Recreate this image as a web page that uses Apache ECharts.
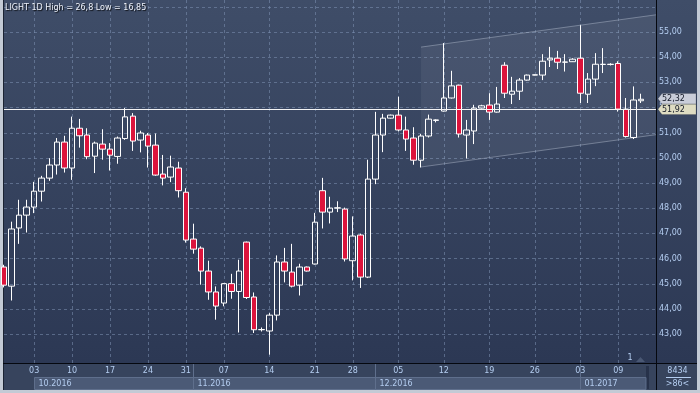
<!DOCTYPE html>
<html>
<head>
<meta charset="utf-8">
<title>LIGHT 1D</title>
<script src="https://cdn.jsdelivr.net/npm/echarts@6/dist/echarts.min.js"></script>
<style>
html,body{margin:0;padding:0;background:#c3cad5;}
#wrap{position:relative;width:700px;height:393px;background:#c3cad5;overflow:hidden;}
.l{position:absolute;}
#chart{position:absolute;left:0;top:0;width:700px;height:393px;}
</style>
</head>
<body>
<div id="wrap">
  <div class="l" style="left:3px;top:0;width:694px;height:363px;background:linear-gradient(#3f4d68,#2c3854);"></div>
  <div class="l" style="left:3px;top:363px;width:694px;height:27px;background:#37445d;"></div>
  <div class="l" style="left:3px;top:0;width:1px;height:390px;background:#1b2333;"></div>
  <div class="l" style="left:3px;top:363px;width:694px;height:1px;background:#05080f;"></div>
  <div class="l" style="left:656px;top:0;width:1px;height:390px;background:#05080f;"></div>
  <div class="l" style="left:646px;top:366px;width:3px;height:23px;background:#27324a;"></div>
  <div id="chart"></div>
</div>
<script>
// ---- data ----
const open  = [45.66,44.90,47.21,47.72,48.04,48.67,49.19,49.71,50.62,49.59,
               51.17,50.90,50.06,50.54,50.34,50.05,50.76,51.65,50.70,50.90,
               50.50,49.35,49.23,49.59,48.63,46.77,46.41,45.50,44.67,44.23,
               45.00,44.69,46.65,44.47,43.17,43.12,43.75,45.86,45.46,44.94,
               45.66,45.78,48.69,47.84,48.00,47.96,45.91,46.93,45.26,49.15,
               50.90,51.57,51.69,51.10,50.78,49.90,50.86,51.48,51.85,52.37,
               52.88,50.90,51.06,51.97,52.09,51.81,53.67,52.52,52.64,53.08,
               53.28,53.28,53.88,53.95,53.79,53.81,53.95,52.52,53.12,53.70,
               53.71,53.74,51.93,50.80,52.26];
const close = [44.94,47.17,47.72,48.04,48.67,49.19,49.71,50.62,49.59,51.17,
               50.87,50.04,50.58,50.34,50.10,50.78,51.62,50.66,50.98,50.46,
               49.31,49.19,49.63,48.69,46.73,46.37,45.50,44.67,44.11,45.00,
               44.69,45.50,44.45,43.17,43.18,43.75,45.86,45.50,44.90,45.66,
               45.50,47.44,47.84,48.00,48.01,45.98,46.89,45.26,49.15,50.90,
               51.57,51.69,51.10,50.74,49.90,50.86,51.53,51.50,52.37,52.85,
               50.94,51.10,51.97,52.06,51.81,52.13,52.56,52.64,53.08,53.28,
               53.29,53.83,53.95,53.79,53.80,53.91,52.56,53.12,53.71,53.71,
               53.70,51.93,50.84,52.29,52.32];
const low   = [44.85,44.33,46.58,47.03,47.80,48.26,49.08,49.33,49.41,49.12,
               50.40,49.94,49.39,49.92,49.49,49.76,50.71,50.27,50.21,49.61,
               49.28,48.90,49.03,48.42,46.63,46.19,44.96,44.36,43.57,44.10,
               44.40,43.06,44.39,43.04,43.10,42.18,43.54,45.05,44.85,44.53,
               45.48,45.76,47.19,47.39,47.84,45.88,45.13,44.83,45.22,48.95,
               50.22,51.55,51.04,50.27,49.72,49.61,50.80,51.40,51.83,52.35,
               50.80,49.97,50.54,51.95,51.50,51.79,52.37,52.13,52.29,53.06,
               53.27,53.08,53.60,53.52,53.42,53.80,52.17,52.17,52.84,53.36,
               53.66,51.83,50.80,50.74,52.17];
const high  = [45.75,47.46,48.33,48.33,49.04,49.28,49.98,50.78,50.87,51.63,
               51.54,51.17,50.64,51.13,50.58,50.84,51.97,51.77,51.07,50.98,
               50.96,50.11,50.08,49.84,48.79,47.38,46.48,45.91,44.89,45.02,
               45.39,45.95,46.67,44.65,43.26,43.83,46.12,46.42,46.58,45.79,
               45.68,47.81,49.20,48.45,48.27,48.02,47.67,46.98,49.92,51.82,
               51.74,51.71,52.42,51.63,51.21,50.94,51.71,51.52,54.55,53.45,
               52.90,51.50,52.10,52.10,52.56,52.81,53.79,53.21,53.16,53.30,
               53.30,54.11,54.40,54.24,54.11,53.95,55.26,53.36,54.15,54.35,
               53.75,53.83,52.37,52.83,52.54];
// one slot per trading day plus one empty slot at the right edge
const categories = open.map((_, i) => String(i)).concat(['']);
const weekTickIdx = [4, 9, 14, 19, 24, 29, 35, 41, 46, 52, 58, 64, 70, 76, 81];
const weekTickLbl = ['03','10','17','24','31','07','14','21','28','05','12','19','26','03','09'];
const monthIdx = [4, 25, 49, 76];
const monthLbl = ['10.2016', '11.2016', '12.2016', '01.2017'];
const priceTicks = [43,44,45,46,47,48,49,50,51,52,53,54,55];
const gridValues = [43,44,45,46,47,48,49,50,51,52,53,54,55,56];
const refLine = 51.92;
const lastPrice = 52.32;
const channelStart = 55, channelLow0 = 49.63, channelHigh0 = 54.39, channelSlope = 0.0414;
const titleText = 'LIGHT 1D High = 26,8 Low = 16,85';

// ---- styling ----
const FONT = '"DejaVu Sans", Verdana, sans-serif';
const FS = 8;
const TXT = '#b4cdf0';
const GRID_COLOR = 'rgba(125,145,178,0.55)';
const AXIS_GAP = 3.6;

const fmt = v => v.toFixed(2).replace('.', ',');

function gridRender(params, api) {
  const cs = params.coordSys;
  const xL = Math.max(cs.x, 4), xR = cs.x + cs.width + AXIS_GAP;
  const ch = [];
  gridValues.forEach(v => {
    const y = Math.round(api.coord([0, v])[1]) + 0.5;
    if (y > cs.y && y < cs.y + cs.height)
      ch.push({type:'line', shape:{x1:xL, y1:y, x2:xR, y2:y},
               style:{stroke:GRID_COLOR, lineWidth:1, lineDash:[3,3]}});
  });
  weekTickIdx.forEach(i => {
    const x = Math.round(api.coord([i, 50])[0]) + 0.5;
    ch.push({type:'line', shape:{x1:x, y1:cs.y, x2:x, y2:cs.y + cs.height},
             style:{stroke:GRID_COLOR, lineWidth:1, lineDash:[3,3]}});
  });
  return {type:'group', children:ch};
}

function channelRender(params, api) {
  const cs = params.coordSys;
  const band = api.size([1, 0])[0];
  const xR = cs.x + cs.width + AXIS_GAP;
  const pL = api.coord([channelStart, channelLow0]);
  const pH = api.coord([channelStart, channelHigh0]);
  const di = (xR - pL[0]) / band;
  const yLR = api.coord([channelStart, channelLow0 + channelSlope * di])[1];
  const yHR = api.coord([channelStart, channelHigh0 + channelSlope * di])[1];
  const ls = {stroke:'rgba(190,200,218,0.42)', lineWidth:1};
  return {type:'group', children:[
    {type:'polygon', shape:{points:[[pH[0], pH[1]], [xR, yHR], [xR, yLR], [pL[0], pL[1]]]},
     style:{fill:'rgba(255,255,255,0.06)'}},
    {type:'line', shape:{x1:pH[0], y1:pH[1], x2:xR, y2:yHR}, style:ls},
    {type:'line', shape:{x1:pL[0], y1:pL[1], x2:xR, y2:yLR}, style:ls}
  ]};
}

function tag(x, yc, text, fill) {
  return [
    {type:'polygon', shape:{points:[[x+2, yc], [x+6, yc-5.2], [x+40, yc-5.2], [x+40, yc+5.2], [x+6, yc+5.2]]},
     style:{fill:fill, stroke:'rgba(0,0,0,0.25)', lineWidth:0.5}},
    {type:'text', x:x+6, y:yc + 0.5, style:{text:text, fill:'#141a28', font:FS + 'px ' + FONT, verticalAlign:'middle', align:'left'}}
  ];
}

function refRender(params, api) {
  const cs = params.coordSys;
  const xR = cs.x + cs.width + AXIS_GAP;
  const yRef = api.coord([0, refLine])[1];
  const yLast = api.coord([0, lastPrice])[1];
  const y = Math.round(yRef) + 0.5;
  const yTag1 = Math.min(yLast, yRef - 10.6);
  return {type:'group', children:[
    {type:'line', shape:{x1:Math.max(cs.x, 4), y1:y, x2:xR, y2:y}, style:{stroke:'#f4f4f4', lineWidth:1}}
  ].concat(tag(xR, yTag1, fmt(lastPrice), '#c9cdd9'), tag(xR, yRef, fmt(refLine), '#dedcc2'))};
}

function monthRender(params, api) {
  const cs = params.coordSys;
  const yB = cs.y + cs.height;
  const top = yB + 14.5, bot = yB + 26.5;
  const endX = cs.x + cs.width + AXIS_GAP - 10;
  const ch = [];
  monthIdx.forEach((idx, k) => {
    const x0 = Math.round(api.coord([idx, 50])[0]) + 0.5;
    const x1 = k + 1 < monthIdx.length ? Math.round(api.coord([monthIdx[k + 1], 50])[0]) + 0.5 : endX;
    ch.push({type:'rect', shape:{x:x0, y:top, width:x1 - x0, height:bot - top},
             style:{fill:'#4b5a76', stroke:'#5f6f8c', lineWidth:1}});
    if (k > 0) ch.push({type:'line', shape:{x1:x0, y1:yB + 1, x2:x0, y2:bot},
                        style:{stroke:'#5f6f8c', lineWidth:1}});
    ch.push({type:'text', x:x0 + 4, y:(top + bot) / 2 + 0.5,
             style:{text:monthLbl[k], fill:TXT, font:FS + 'px ' + FONT, verticalAlign:'middle', align:'left'}});
  });
  return {type:'group', children:ch};
}

const chart = echarts.init(document.getElementById('chart'), null, {renderer:'canvas'});
chart.setOption({
  animation: false,
  backgroundColor: 'transparent',
  textStyle: {fontFamily: FONT},
  title: {
    text: titleText, left: 5, top: 4, padding: 0,
    textStyle: {fontSize: FS, fontWeight: 'normal', color: '#eef2fa', fontFamily: FONT,
                textShadowColor: 'rgba(0,0,0,0.8)', textShadowBlur: 1, textShadowOffsetX: 1, textShadowOffsetY: 1}
  },
  grid: {left: -0.88, top: 0, width: 653.26, height: 363, containLabel: false},
  xAxis: {
    type: 'category', data: categories, boundaryGap: true,
    axisLine: {show: false}, axisTick: {show: false}, splitLine: {show: false},
    axisLabel: {
      interval: (i) => weekTickIdx.indexOf(i) >= 0,
      formatter: (v, i) => { const k = weekTickIdx.indexOf(i); return k >= 0 ? weekTickLbl[k] : ''; },
      color: TXT, fontSize: FS, fontFamily: FONT, margin: 4
    }
  },
  yAxis: {
    type: 'value', position: 'right', offset: AXIS_GAP,
    min: 41.85, max: 56.26, minInterval: 1, maxInterval: 1, scale: true,
    axisLine: {show: false}, axisTick: {show: false}, splitLine: {show: false},
    axisLabel: {
      formatter: v => (priceTicks.indexOf(Math.round(v * 100) / 100) >= 0 ? fmt(v) : ''),
      color: TXT, fontSize: FS, fontFamily: FONT, margin: 3, align: 'left'
    }
  },
  series: [
    {type:'custom', name:'grid', renderItem:gridRender, data:[[0, 50]], z:1, silent:true, clip:false},
    {type:'custom', name:'channel', renderItem:channelRender, data:[[0, 50]], z:1.5, silent:true, clip:false},
    {
      type: 'candlestick', name: 'LIGHT', z: 3,
      data: open.map((o, i) => [o, close[i], low[i], high[i]]),
      barWidth: 6,
      itemStyle: {color: 'rgba(0,0,0,0)', color0: '#dc143c', borderColor: '#ffffff', borderColor0: '#ffffff', borderWidth: 1}
    },
    {type:'custom', name:'ref', renderItem:refRender, data:[[0, 50]], z:4, silent:true, clip:false},
    {type:'custom', name:'months', renderItem:monthRender, data:[[0, 50]], z:1, silent:true, clip:false}
  ],
  graphic: [
    {type:'text', x:630, y:358, style:{text:'1', fill:TXT, font:FS + 'px ' + FONT, align:'center', verticalAlign:'middle'}},
    {type:'polygon', shape:{points:[[636, 362], [640.5, 357], [645, 362]]}, style:{fill:'#4a5874'}},
    {type:'text', x:677.5, y:370.5, style:{text:'8434', fill:TXT, font:FS + 'px ' + FONT, align:'center', verticalAlign:'middle'}},
    {type:'line', shape:{x1:666, y1:377.5, x2:691, y2:377.5}, style:{stroke:TXT, lineWidth:1}},
    {type:'text', x:677.5, y:383.5, style:{text:'>86<', fill:TXT, font:FS + 'px ' + FONT, align:'center', verticalAlign:'middle'}}
  ]
});
</script>
</body>
</html>
